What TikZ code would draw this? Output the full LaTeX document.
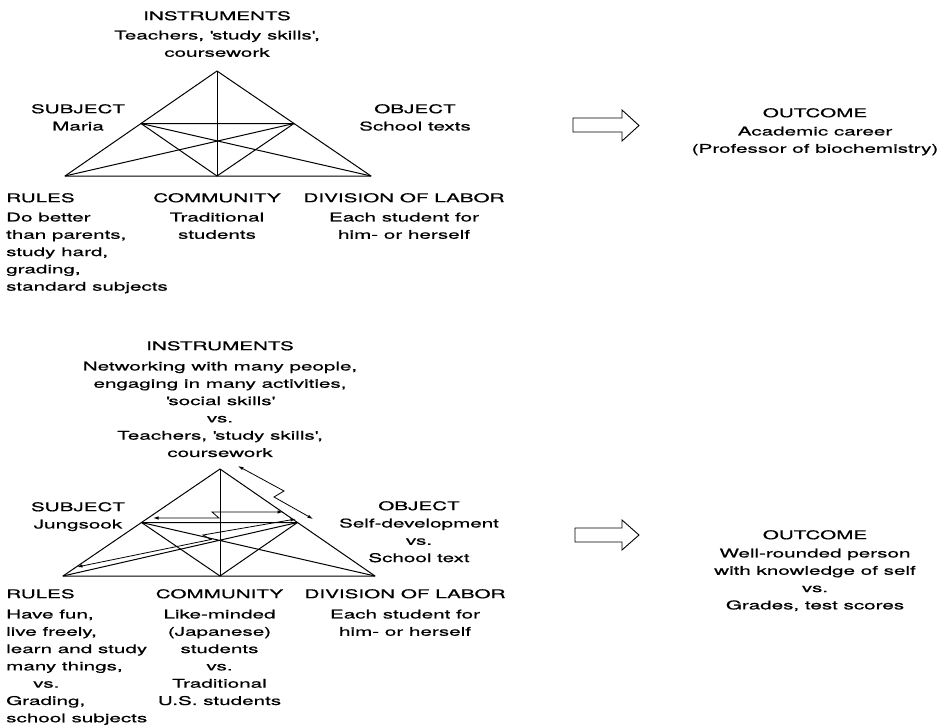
\documentclass[tikz,border=0pt]{standalone}
\usepackage{fontspec}
\setmainfont{TeX Gyre Heros}[FakeStretch=1.72,FakeBold=0.6]
\usetikzlibrary{arrows.meta}
\tikzset{%
  txt/.style    = {inner sep=0pt, anchor=north, align=center,%
                   font=\fontsize{12}{17.3}\selectfont},%
  txtl/.style   = {txt, anchor=north west, align=left},%
  tri/.style    = {line width=1pt, line join=round},%
  zap/.style    = {line width=0.8pt, line join=miter,%
                   {Latex[length=5.5pt,width=3.4pt]}-{Latex[length=5.5pt,width=3.4pt]}},%
  hollow/.style = {line width=0.9pt, line join=miter}%
}
\newcommand{\q}{\textquotesingle}

\begin{document}
\begin{tikzpicture}[x=1pt, y=-1pt]%
	\useasboundingbox (0,0) rectangle (948,728);
	% first activity system
	\coordinate (ap1) at (217,71);
	\coordinate (ru1) at (65,176);
	\coordinate (co1) at (217,176);
	\coordinate (di1) at (371,176);
	\coordinate (su1) at (141,123.5);
	\coordinate (ob1) at (294,123.5);
	\draw[tri] (ru1) -- (ap1) -- (di1) -- cycle;
	\draw[tri] (ap1) -- (co1);
	\draw[tri] (su1) -- (ob1) -- (co1) -- cycle;
	\draw[tri] (su1) -- (di1) (ob1) -- (ru1);
	\node (instr1) at (217,11) [txt] {INSTRUMENTS\\[2pt]Teachers, \q study skills\q,\\coursework};
	\node (subj1) at (78,104) [txt] {SUBJECT\\Maria};
	\node (obj1) at (415,104) [txt] {OBJECT\\School texts};
	\node (rules1) at (6,193) [txtl] {RULES\\[2pt]Do better\\than parents,\\study hard,\\grading,\\standard subjects};
	\node (comm1) at (217,193) [txt] {COMMUNITY\\[2pt]Traditional\\students};
	\node (div1) at (404,193) [txt] {DIVISION OF LABOR\\[2pt]Each student for\\him- or herself};
	\draw[hollow] (573,118) -- (622,118) -- (622,110) -- (639,125.5) -- (622,141) -- (622,132) -- (573,132) -- cycle;
	\node (out1) at (815,108) [txt] {OUTCOME\\[1pt]Academic career\\(Professor of biochemistry)};
	% second activity system
	\coordinate (ap2) at (220,469);
	\coordinate (ru2) at (63,576);
	\coordinate (co2) at (220,576);
	\coordinate (di2) at (375,576);
	\coordinate (su2) at (141.5,522.5);
	\coordinate (ob2) at (297.5,522.5);
	\draw[tri] (ru2) -- (ap2) -- (di2) -- cycle;
	\draw[tri] (ap2) -- (co2);
	\draw[tri] (su2) -- (ob2) -- (co2) -- cycle;
	\draw[tri] (su2) -- (di2) (ob2) -- (ru2);
	% contradictions
	\coordinate (zi1) at (238,466);
	\coordinate (zo1) at (313,519);
	\coordinate (zs2) at (153,518);
	\coordinate (zo2) at (283,512);
	\coordinate (zo3) at (296,519);
	\coordinate (zr3) at (77,567);
	\draw[zap] (zi1) -- (284,491) -- (274,497) -- (zo1);
	\draw[zap] (zs2) -- (219,518) -- (212,512) -- (zo2);
	\draw[zap] (zo3) -- (203,535) -- (211,539.5) -- (zr3);
	\node (instr2) at (220,341) [txt] {INSTRUMENTS\\[3pt]Networking with many people,\\engaging in many activities,\\\q social skills\q\\vs.\\Teachers, \q study skills\q,\\coursework};
	\node (subj2) at (78,502) [txt] {SUBJECT\\Jungsook};
	\node (obj2) at (419,501) [txt] {OBJECT\\Self-development\\vs.\\School text};
	\node (rules2) at (6,589) [txtl] {RULES\\[3pt]Have fun,\\live freely,\\learn and study\\many things,\\\hspace*{27pt}vs.\\Grading,\\school subjects};
	\node (comm2) at (219.5,589) [txt] {COMMUNITY\\[3pt]Like-minded\\(Japanese)\\students\\vs.\\Traditional\\U.S. students};
	\node (div2) at (405,589) [txt] {DIVISION OF LABOR\\[3pt]Each student for\\him- or herself};
	\draw[hollow] (575,528) -- (622,528) -- (622,520) -- (639,535) -- (622,550) -- (622,542) -- (575,542) -- cycle;
	\node (out2) at (815,530) [txt] {OUTCOME\\[1pt]Well-rounded person\\with knowledge of self\\vs.\\Grades, test scores};
\end{tikzpicture}
\end{document}
